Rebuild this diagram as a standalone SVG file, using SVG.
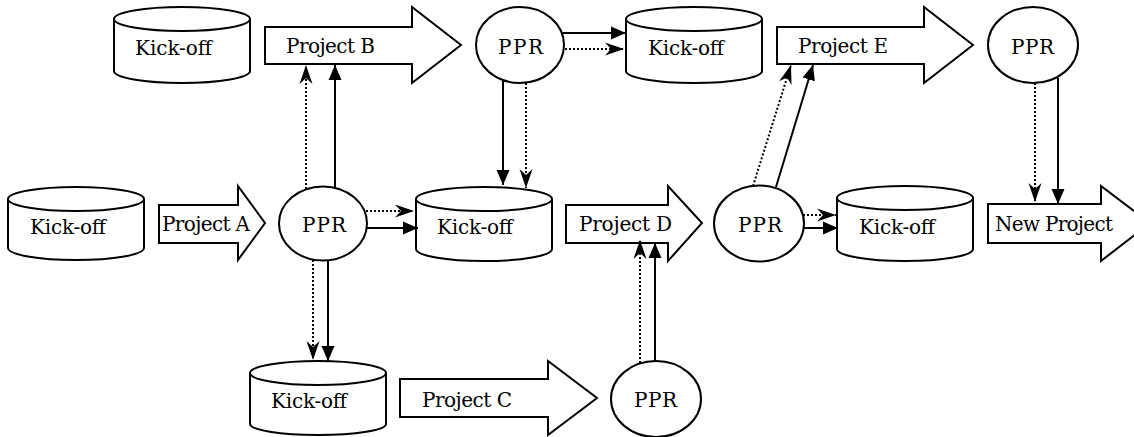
<svg xmlns="http://www.w3.org/2000/svg" width="1134" height="437" viewBox="0 0 1134 437">
  <style>
    .shape { fill: #ffffff; stroke: #000000; stroke-width: 2; }
    text { font-family: "DejaVu Serif", "Liberation Serif", serif; font-size: 20px; fill: #000000; }
    .solid { stroke: #000000; stroke-width: 2; fill: none; marker-end: url(#tri); }
    .dotted { stroke: #000000; stroke-width: 2; stroke-dasharray: 2 2; fill: none; marker-end: url(#stealth); }
  </style>
  <defs>
    <marker id="tri" markerUnits="userSpaceOnUse" markerWidth="16" markerHeight="14" refX="15" refY="7" orient="auto">
      <path d="M0,0.5 L15,7 L0,13.5 z" fill="#000000"/>
    </marker>
    <marker id="stealth" markerUnits="userSpaceOnUse" markerWidth="20" markerHeight="14" refX="19" refY="7" orient="auto">
      <path d="M0,0.5 L19,7 L0,13.5 L6,7 z" fill="#000000"/>
    </marker>
  </defs>
  <rect width="1134" height="437" fill="#ffffff"/>

  <!-- kick-off cylinders -->
  <g id="kickoff-top-left">
    <path class="shape" d="M114,19 v52 a68,12 0 0,0 136,0 v-52 a68,12 0 0,0 -136,0 a68,12 0 0,0 136,0"/>
    <text x="135" y="55" textLength="77">Kick-off</text>
  </g>
  <g id="kickoff-top-right">
    <path class="shape" d="M626,19 v52 a68,12 0 0,0 136,0 v-52 a68,12 0 0,0 -136,0 a68,12 0 0,0 136,0"/>
    <text x="648" y="55" textLength="76">Kick-off</text>
  </g>
  <g id="kickoff-left">
    <path class="shape" d="M8,199 v49 a68,12 0 0,0 136,0 v-49 a68,12 0 0,0 -136,0 a68,12 0 0,0 136,0"/>
    <text x="30" y="234" textLength="76">Kick-off</text>
  </g>
  <g id="kickoff-middle">
    <path class="shape" d="M416,199 v50 a68,12 0 0,0 136,0 v-50 a68,12 0 0,0 -136,0 a68,12 0 0,0 136,0"/>
    <text x="437" y="234" textLength="76">Kick-off</text>
  </g>
  <g id="kickoff-right">
    <path class="shape" d="M837,198 v51 a68,12 0 0,0 136,0 v-51 a68,12 0 0,0 -136,0 a68,12 0 0,0 136,0"/>
    <text x="859" y="234" textLength="76">Kick-off</text>
  </g>
  <g id="kickoff-bottom">
    <path class="shape" d="M250,373 v51 a68,11 0 0,0 136,0 v-51 a68,12 0 0,0 -136,0 a68,12 0 0,0 136,0"/>
    <text x="271" y="408" textLength="76">Kick-off</text>
  </g>

  <!-- project block arrows -->
  <g id="project-a">
    <path class="shape" d="M159,205 H238 V186 L265,223 L238,260 V243 H159 z"/>
    <text x="162" y="231" textLength="88">Project A</text>
  </g>
  <g id="project-b">
    <path class="shape" d="M265,27 H412 V7 L461,45 L412,83 V64 H265 z"/>
    <text x="286" y="53" textLength="89">Project B</text>
  </g>
  <g id="project-c">
    <path class="shape" d="M400,379 H548 V361 L597,398 L548,435 V417 H400 z"/>
    <text x="422" y="407" textLength="90">Project C</text>
  </g>
  <g id="project-d">
    <path class="shape" d="M566,205 H668 V186 L702,223 L668,261 V243 H566 z"/>
    <text x="579" y="231" textLength="93">Project D</text>
  </g>
  <g id="project-e">
    <path class="shape" d="M777,27 H924 V7 L973,45 L924,83 V64 H777 z"/>
    <text x="798" y="53" textLength="90">Project E</text>
  </g>
  <g id="new-project">
    <path class="shape" d="M988,204 H1101 V186 L1150,223 L1101,261 V243 H988 z"/>
    <text x="995" y="231" textLength="118">New Project</text>
  </g>

  <!-- PPR reviews -->
  <g id="ppr-b">
    <ellipse class="shape" cx="520" cy="45" rx="44" ry="38"/>
    <text x="498" y="54" textLength="45">PPR</text>
  </g>
  <g id="ppr-e">
    <ellipse class="shape" cx="1033" cy="45" rx="45" ry="38"/>
    <text x="1011" y="54" textLength="43">PPR</text>
  </g>
  <g id="ppr-a">
    <ellipse class="shape" cx="323" cy="223.5" rx="44" ry="37"/>
    <text x="302" y="232" textLength="44">PPR</text>
  </g>
  <g id="ppr-d">
    <ellipse class="shape" cx="759" cy="223.5" rx="45" ry="38"/>
    <text x="738" y="232" textLength="44">PPR</text>
  </g>
  <g id="ppr-c">
    <ellipse class="shape" cx="656" cy="399" rx="45" ry="38"/>
    <text x="634" y="407" textLength="43">PPR</text>
  </g>

  <!-- connectors: solid = decision flow, dotted = knowledge flow -->
  <g id="connectors">
    <line class="dotted" x1="306" y1="189" x2="306" y2="65"/>
    <line class="solid" x1="335" y1="188" x2="335" y2="65"/>
    <line class="dotted" x1="366" y1="211" x2="414" y2="211"/>
    <line class="solid" x1="367" y1="228" x2="418" y2="228"/>
    <line class="dotted" x1="313" y1="260" x2="313" y2="360"/>
    <line class="solid" x1="328" y1="260" x2="328" y2="361"/>

    <line class="solid" x1="561" y1="33" x2="626" y2="33"/>
    <line class="dotted" x1="565" y1="49" x2="624" y2="49"/>
    <line class="solid" x1="503" y1="80" x2="503" y2="185"/>
    <line class="dotted" x1="526" y1="83" x2="526" y2="188"/>

    <line class="dotted" x1="640" y1="363" x2="640" y2="240"/>
    <line class="solid" x1="655" y1="361" x2="655" y2="243"/>

    <line class="dotted" x1="753" y1="186" x2="791" y2="65"/>
    <line class="solid" x1="776" y1="187" x2="813" y2="65"/>
    <line class="dotted" x1="803" y1="215" x2="836" y2="215"/>
    <line class="solid" x1="803" y1="228" x2="838" y2="228"/>

    <line class="dotted" x1="1035" y1="83" x2="1035" y2="202"/>
    <line class="solid" x1="1058" y1="78" x2="1058" y2="204"/>
  </g>
</svg>
